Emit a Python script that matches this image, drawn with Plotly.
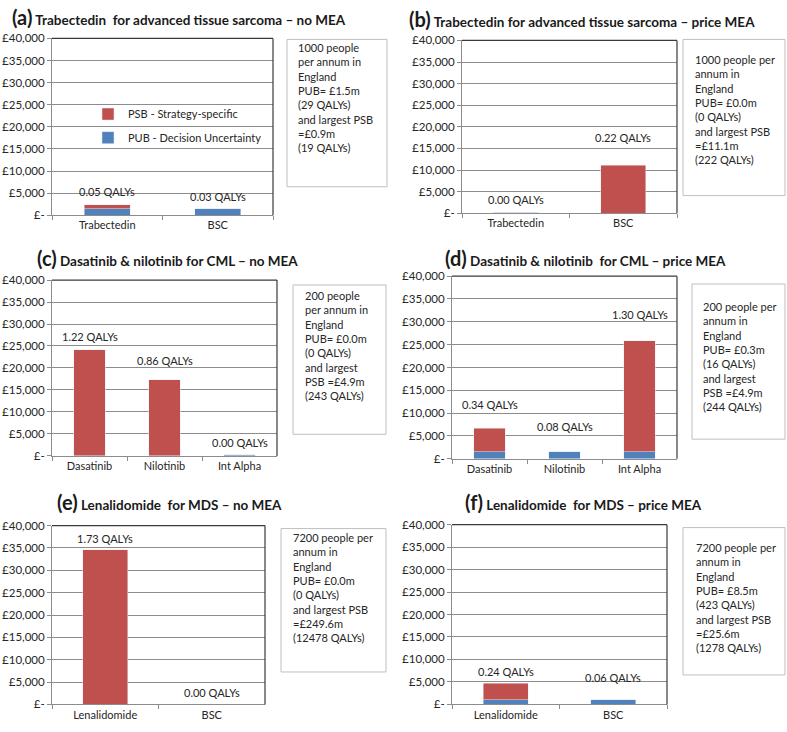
import plotly.graph_objects as go

W, H = 787, 732

# ---------------- data ----------------
titles = [
    ("(a)", "Trabectedin  for advanced tissue sarcoma – no MEA"),
    ("(b)", "Trabectedin for advanced tissue sarcoma – price MEA"),
    ("(c)", "Dasatinib & nilotinib for CML – no MEA"),
    ("(d)", "Dasatinib & nilotinib  for CML – price MEA"),
    ("(e)", "Lenalidomide  for MDS – no MEA"),
    ("(f)", "Lenalidomide  for MDS – price MEA"),
]
cats_a = ["Trabectedin", "BSC"]
pub_a = [1450, 1450]
psb_a = [950, 0]
qaly_a = ["0.05 QALYs", "0.03 QALYs"]

cats_b = ["Trabectedin", "BSC"]
pub_b = [200, 0]
psb_b = [0, 11100]
qaly_b = ["0.00 QALYs", "0.22 QALYs"]

cats_c = ["Dasatinib", "Nilotinib", "Int Alpha"]
pub_c = [0, 0, 250]
psb_c = [24200, 17300, 0]
qaly_c = ["1.22 QALYs", "0.86 QALYs", "0.00 QALYs"]

cats_d = ["Dasatinib", "Nilotinib", "Int Alpha"]
pub_d = [1550, 1550, 1550]
psb_d = [5150, 0, 24350]
qaly_d = ["0.34 QALYs", "0.08 QALYs", "1.30 QALYs"]

cats_e = ["Lenalidomide", "BSC"]
pub_e = [0, 0]
psb_e = [34600, 0]
qaly_e = ["1.73 QALYs", "0.00 QALYs"]

cats_f = ["Lenalidomide", "BSC"]
pub_f = [1000, 1000]
psb_f = [3650, 0]
qaly_f = ["0.24 QALYs", "0.06 QALYs"]

notes = [
    "1000 people<br>per annum in<br>England<br>PUB= £1.5m<br>(29 QALYs)<br>and largest PSB<br>=£0.9m<br>(19 QALYs)",
    "1000 people per<br>annum in<br>England<br>PUB= £0.0m<br>(0 QALYs)<br>and largest PSB<br>=£11.1m<br>(222 QALYs)",
    "200 people<br>per annum in<br>England<br>PUB= £0.0m<br>(0 QALYs)<br>and largest<br>PSB =£4.9m<br>(243 QALYs)",
    "200 people per<br>annum in<br>England<br>PUB= £0.3m<br>(16 QALYs)<br>and largest<br>PSB =£4.9m<br>(244 QALYs)",
    "7200 people per<br>annum in<br>England<br>PUB= £0.0m<br>(0 QALYs)<br>and largest PSB<br>=£249.6m<br>(12478 QALYs)",
    "7200 people per<br>annum in<br>England<br>PUB= £8.5m<br>(423 QALYs)<br>and largest PSB<br>=£25.6m<br>(1278 QALYs)",
]
ytick_vals = [0, 5000, 10000, 15000, 20000, 25000, 30000, 35000, 40000]
ytick_text = ["£-", "£5,000", "£10,000", "£15,000", "£20,000", "£25,000",
              "£30,000", "£35,000", "£40,000"]

panels_data = [
    (cats_a, pub_a, psb_a, qaly_a),
    (cats_b, pub_b, psb_b, qaly_b),
    (cats_c, pub_c, psb_c, qaly_c),
    (cats_d, pub_d, psb_d, qaly_d),
    (cats_e, pub_e, psb_e, qaly_e),
    (cats_f, pub_f, psb_f, qaly_f),
]

# ---------------- layout (pixels) ----------------
plot_px = [  # x0, x1, ytop, ybottom
    (52, 273, 32, 212),
    (462, 677, 34, 210),
    (52, 277, 278, 457),
    (452, 677, 274, 460),
    (52, 265, 528, 710),
    (452, 667, 527, 710),
]
title_px = [(10, 10), (407, 12), (35, 256), (443, 256), (55, 504), (463, 504)]
box_px = [  # x0, x1, ytop, ybottom
    (287, 387, 33, 183),
    (683, 785, 33, 192),
    (293, 386, 283, 435),
    (692, 785, 282, 440),
    (281, 386, 531, 677),
    (683, 785, 530, 680),
]
note_px = [(296, 45), (693, 57), (303, 297), (701, 308), (291, 543), (694, 554)]
label_offset = [
    [2900, 2800],
    [2900, 6500],
    [2900, 4400, 2900],
    [5100, 5600, 5700],
    [2600, 2600],
    [2600, 5000],
]

RED = "#C0504D"
BLUE = "#4F81BD"
GRID = "#8C8C8C"
TXT = "#262626"
FONT = "Lato, Open Sans, sans-serif"


def px(x):
    return x / W


def py(y):
    return 1 - y / H


fig = go.Figure()
shapes = []
annotations = []

for i, (cats, pub, psb, qal) in enumerate(panels_data):
    n = i + 1
    xa = "x" if n == 1 else f"x{n}"
    ya = "y" if n == 1 else f"y{n}"
    first = (i == 0)
    fig.add_trace(go.Bar(
        x=cats, y=pub, name="PUB - Decision Uncertainty", marker_color=BLUE,
        width=0.42, xaxis=xa, yaxis=ya, showlegend=first, legend="legend2",
        hoverinfo="x+y"))
    fig.add_trace(go.Bar(
        x=cats, y=psb, name="PSB - Strategy-specific", marker_color=RED,
        width=0.42, xaxis=xa, yaxis=ya, showlegend=first, legend="legend",
        hoverinfo="x+y"))
    x0, x1, yt, yb = plot_px[i]
    xk = "xaxis" if n == 1 else f"xaxis{n}"
    yk = "yaxis" if n == 1 else f"yaxis{n}"
    fig.layout[xk] = dict(
        domain=[px(x0), px(x1)], anchor=ya, type="category",
        range=[-0.5, len(cats) - 0.5], showline=True, linecolor=GRID,
        linewidth=1, ticks="outside", tickson="boundaries", ticklen=4,
        tickcolor=GRID, showgrid=False,
        tickfont=dict(family=FONT, size=11, color=TXT), fixedrange=True)
    fig.layout[yk] = dict(
        domain=[py(yb), py(yt)], anchor=xa, range=[0, 40000],
        tickvals=ytick_vals, ticktext=ytick_text, showline=True,
        linecolor=GRID, linewidth=1, ticks="outside", ticklen=4,
        tickcolor=GRID, showgrid=True, gridcolor=GRID, gridwidth=1,
        zeroline=False, tickfont=dict(family=FONT, size=11.5, color=TXT),
        fixedrange=True)
    # dark top and right border of plot area
    shapes.append(dict(type="line", xref="paper", yref="paper",
                       x0=px(x0), x1=px(x1), y0=py(yt), y1=py(yt),
                       line=dict(color="#3A3A3A", width=1.2)))
    shapes.append(dict(type="line", xref="paper", yref="paper",
                       x0=px(x1), x1=px(x1), y0=py(yt), y1=py(yb),
                       line=dict(color="#3A3A3A", width=1.2)))
    # QALY labels
    for j, c in enumerate(cats):
        annotations.append(dict(
            x=c, y=pub[j] + psb[j] + label_offset[i][j], xref=xa, yref=ya,
            text=qal[j], showarrow=False, yanchor="middle",
            font=dict(family=FONT, size=11, color=TXT)))
    # title
    tx, ty = title_px[i]
    letter, ttl = titles[i]
    annotations.append(dict(
        x=px(tx), y=py(ty), xref="paper", yref="paper", xanchor="left",
        yanchor="middle", showarrow=False,
        text=f"<b><span style='font-size:20px'>{letter}</span> {ttl}</b>",
        font=dict(family=FONT, size=13.5, color="#1A1A1A")))
    # note box
    bx0, bx1, byt, byb = box_px[i]
    shapes.append(dict(type="rect", xref="paper", yref="paper",
                       x0=px(bx0), x1=px(bx1), y0=py(byb), y1=py(byt),
                       line=dict(color="#BFBFBF", width=1), fillcolor="white",
                       layer="below"))
    nx, ny = note_px[i]
    annotations.append(dict(
        x=px(nx), y=py(ny - 12), xref="paper", yref="paper", xanchor="left",
        yanchor="top", showarrow=False, align="left", text=notes[i],
        font=dict(family=FONT, size=11, color=TXT)))

fig.update_layout(
    width=W, height=H, margin=dict(l=0, r=0, t=0, b=0),
    paper_bgcolor="white", plot_bgcolor="white", barmode="stack",
    shapes=shapes, annotations=annotations,
    font=dict(family=FONT, size=11, color=TXT),
    legend=dict(x=px(88), y=py(109), xanchor="left", yanchor="middle",
                bgcolor="rgba(0,0,0,0)", font=dict(family=FONT, size=11, color=TXT),
                itemwidth=30),
    legend2=dict(x=px(88), y=py(133), xanchor="left", yanchor="middle",
                 bgcolor="rgba(0,0,0,0)", font=dict(family=FONT, size=11, color=TXT),
                 itemwidth=30),
)

fig.write_html("out.html", config={"displayModeBar": False},
               post_script="document.body.style.margin='0';")
